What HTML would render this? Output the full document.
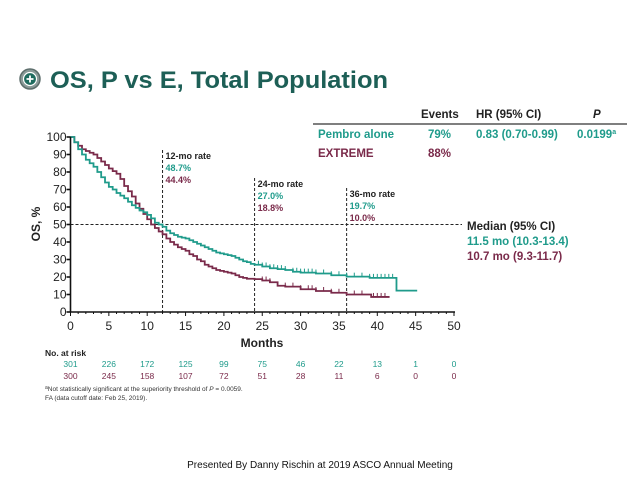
<!DOCTYPE html>
<html><head><meta charset="utf-8"><style>
html,body{margin:0;padding:0;background:#fff;}
body{width:638px;height:479px;overflow:hidden;font-family:"Liberation Sans",Arial,sans-serif;}
</style></head><body>
<svg id="chart" width="638" height="479" viewBox="0 0 638 479" xmlns="http://www.w3.org/2000/svg" font-family="Liberation Sans, Arial, sans-serif">
<g>
 <circle cx="30" cy="79" r="10" fill="#8a9a98" stroke="#5d6e6c" stroke-width="1.5"/>
 <circle cx="30" cy="79" r="6.5" fill="#1e6b5e" stroke="#fff" stroke-width="1.2"/>
 <path d="M30 75.5v7M26.5 79h7" stroke="#fff" stroke-width="1.8"/>
 <text x="50" y="88" font-size="24.5" font-weight="bold" fill="#1d5f56" textLength="338" lengthAdjust="spacingAndGlyphs">OS, P vs E, Total Population</text>
</g>
<g font-weight="bold" font-size="11.5">
 <text x="421" y="118" fill="#222">Events</text>
 <text x="476" y="118" fill="#222">HR (95% CI)</text>
 <text x="593" y="118" fill="#222" font-style="italic">P</text>
 <line x1="313" y1="124" x2="627" y2="124" stroke="#555" stroke-width="1.5"/>
 <text x="318" y="138" fill="#1f9b8b">Pembro alone</text>
 <text x="428" y="138" fill="#1f9b8b">79%</text>
 <text x="476" y="138" fill="#1f9b8b">0.83 (0.70-0.99)</text>
 <text x="577" y="138" fill="#1f9b8b">0.0199<tspan font-size="7" dy="-4">a</tspan></text>
 <text x="318" y="157" fill="#7a2a4a">EXTREME</text>
 <text x="428" y="157" fill="#7a2a4a">88%</text>
</g>
<g font-weight="bold" font-size="11.5">
 <text x="467" y="230" fill="#222">Median (95% CI)</text>
 <text x="467" y="245" fill="#1f9b8b">11.5 mo (10.3-13.4)</text>
 <text x="467" y="260" fill="#7a2a4a">10.7 mo (9.3-11.7)</text>
</g>
<g id="plot"></g>
<text transform="translate(40,224) rotate(-90)" text-anchor="middle" font-size="12" font-weight="bold" fill="#222">OS, %</text>
<text x="262" y="347" text-anchor="middle" font-size="12" font-weight="bold" fill="#222">Months</text>
<text x="45" y="356" font-size="8.5" font-weight="bold" fill="#222">No. at risk</text>
<g font-size="6.5" fill="#333">
 <text x="45" y="391"><tspan font-size="5" dy="-2">a</tspan><tspan dy="2">Not statistically significant at the superiority threshold of </tspan><tspan font-style="italic">P</tspan> = 0.0059.</text>
 <text x="45" y="400">FA (data cutoff date: Feb 25, 2019).</text>
</g>
<text x="320" y="468" text-anchor="middle" font-size="10" fill="#111">Presented By Danny Rischin at 2019 ASCO Annual Meeting</text>
</svg>
<script>
const pembroT=[0,0.5,1,1.5,2,2.5,3,3.5,4,4.5,5,5.5,6,6.5,7,7.5,8,8.5,9,9.5,10,10.5,11,11.5,12,12.5,13,13.5,14,14.5,15,15.5,16,16.5,17,17.5,18,18.5,19,19.5,20,20.5,21,21.5,22,22.5,23,23.5,24,25,26,27,28,29,30,32,34,36,39,42.5,45.2];
const pembroS=[100,97,93,90,87,85,83,80,77,74,71.5,70,68,66.5,65,63,61,59.5,58,57,55.5,53.5,51,50,48.7,46.5,45,44,43,42.5,42,41,40,39,38,37,36,35,34,33.5,33,32.5,32,31,30,29,28.5,27.5,27,26,25,24.5,24,23,22.5,22,21,20.2,19.5,12.2,12.2];
const extremeT=[0,0.5,1,1.5,2,2.5,3,3.5,4,4.5,5,5.5,6,6.5,7,7.5,8,8.5,9,9.5,10,10.5,11,11.5,12,12.5,13,13.5,14,14.5,15,15.5,16,16.5,17,17.5,18,18.5,19,19.5,20,20.5,21,21.5,22,22.5,23,24,25,26,27,28,30,32,34,36,39.2,41.6];
const extremeS=[100,97,95,93,92,91,90,88,86,84,82,80.5,79,76,72,69,66,62,59,56,53,50,48,46,44.4,42,40,38.5,37,36,35,33,32,30,29,27,26,25,24,23.5,23,22.5,22,21,20,19.5,19,18.8,18,17,15,14.5,13,12,11,10,8.6,8.6];
const pembroCens=[24.5,25,25.5,26,26.5,27,27.5,28,29,29.5,30,30.5,31,31.5,32,33,34,35,36,37,38,39,39.5,40,40.5,41,41.5,42];
const extremeCens=[25,25.5,26,27,28,29,30,31,31.5,32,33,34,35,37,38,39.5,40,40.5,41];
const xTicks=[0,5,10,15,20,25,30,35,40,45,50];
const yTicks=[0,10,20,30,40,50,60,70,80,90,100];
const riskPembro=[301,226,172,125,99,75,46,22,13,1,0];
const riskExtreme=[300,245,158,107,72,51,28,11,6,0,0];
const rateMonths=[12,24,36];
const rateP=["48.7%","27.0%","19.7%"];
const rateE=["44.4%","18.8%","10.0%"];
const rateTop=[150,178,188];
const TEAL="#1f9b8b",MAROON="#7a2a4a";
const X=m=>70.5+m*7.67, Y=s=>312-s*1.75;
const NS="http://www.w3.org/2000/svg";
const plot=document.getElementById('plot');
function mk(tag,attrs,parent){const e=document.createElementNS(NS,tag);for(const k in attrs)e.setAttribute(k,attrs[k]);(parent||plot).appendChild(e);return e;}
mk('line',{x1:X(0),y1:Y(50),x2:462,y2:Y(50),stroke:'#222','stroke-width':1,'stroke-dasharray':'3,2'});
rateMonths.forEach((m,i)=>{
 const l=mk('line',{x1:X(m),y1:rateTop[i],x2:X(m),y2:Y(0),stroke:'#222','stroke-width':1,'stroke-dasharray':'3,2'});
 
 
 const g=mk('g',{'font-size':'9','font-weight':'bold'});
 
 
 mk('text',{x:X(m)+3,y:rateTop[i]+9,fill:'#222'},g).textContent=m+'-mo rate';
 mk('text',{x:X(m)+3,y:rateTop[i]+21,fill:TEAL},g).textContent=rateP[i];
 mk('text',{x:X(m)+3,y:rateTop[i]+33,fill:MAROON},g).textContent=rateE[i];
});
function step(T,S){let d='M'+X(T[0])+' '+Y(S[0]);for(let i=1;i<T.length;i++){d+=' H'+X(T[i])+' V'+Y(S[i]);}return d;}
function valAt(T,S,m){let v=S[0];for(let i=0;i<T.length;i++){if(T[i]<=m)v=S[i];}return v;}
const pc=mk('path',{d:step(extremeT,extremeS),fill:'none',stroke:MAROON,'stroke-width':1.8});


const tc=mk('path',{d:step(pembroT,pembroS),fill:'none',stroke:TEAL,'stroke-width':1.8});


pembroCens.forEach(m=>{const v=valAt(pembroT,pembroS,m);const c=mk('line',{x1:X(m),x2:X(m),y1:Y(v),y2:Y(v)-4,stroke:TEAL,'stroke-width':1});
 
 });
extremeCens.forEach(m=>{const v=valAt(extremeT,extremeS,m);const c=mk('line',{x1:X(m),x2:X(m),y1:Y(v),y2:Y(v)-4,stroke:MAROON,'stroke-width':1});
 
 });
const ax=mk('g',{stroke:'#111','stroke-width':1.6});


mk('line',{x1:X(0),y1:Y(0),x2:X(50)+1,y2:Y(0)},ax);
mk('line',{x1:X(0),y1:Y(0),x2:X(0),y2:Y(100)},ax);
for(let m=0;m<=50;m++){mk('line',{x1:X(m),x2:X(m),y1:Y(0),y2:Y(0)+(m%5?2:4),'stroke-width':1},ax);}
xTicks.forEach((t,i)=>{const tx=mk('text',{x:X(t),y:330,'text-anchor':'middle','font-size':12,fill:'#222'});
 
 
 tx.textContent=t;
 const r1=mk('text',{x:X(t),y:367,'text-anchor':'middle','font-size':8.5,fill:TEAL});
 
 
 r1.textContent=riskPembro[i];
 const r2=mk('text',{x:X(t),y:379,'text-anchor':'middle','font-size':8.5,fill:MAROON});
 
 
 r2.textContent=riskExtreme[i];});
yTicks.forEach(t=>{mk('line',{x1:X(0)-4,x2:X(0),y1:Y(t),y2:Y(t)},ax);
 const ty=mk('text',{x:X(0)-4,y:Y(t)+4,'text-anchor':'end','font-size':12,fill:'#222'});
 
 
 ty.textContent=t;});
</script>
</body></html>
